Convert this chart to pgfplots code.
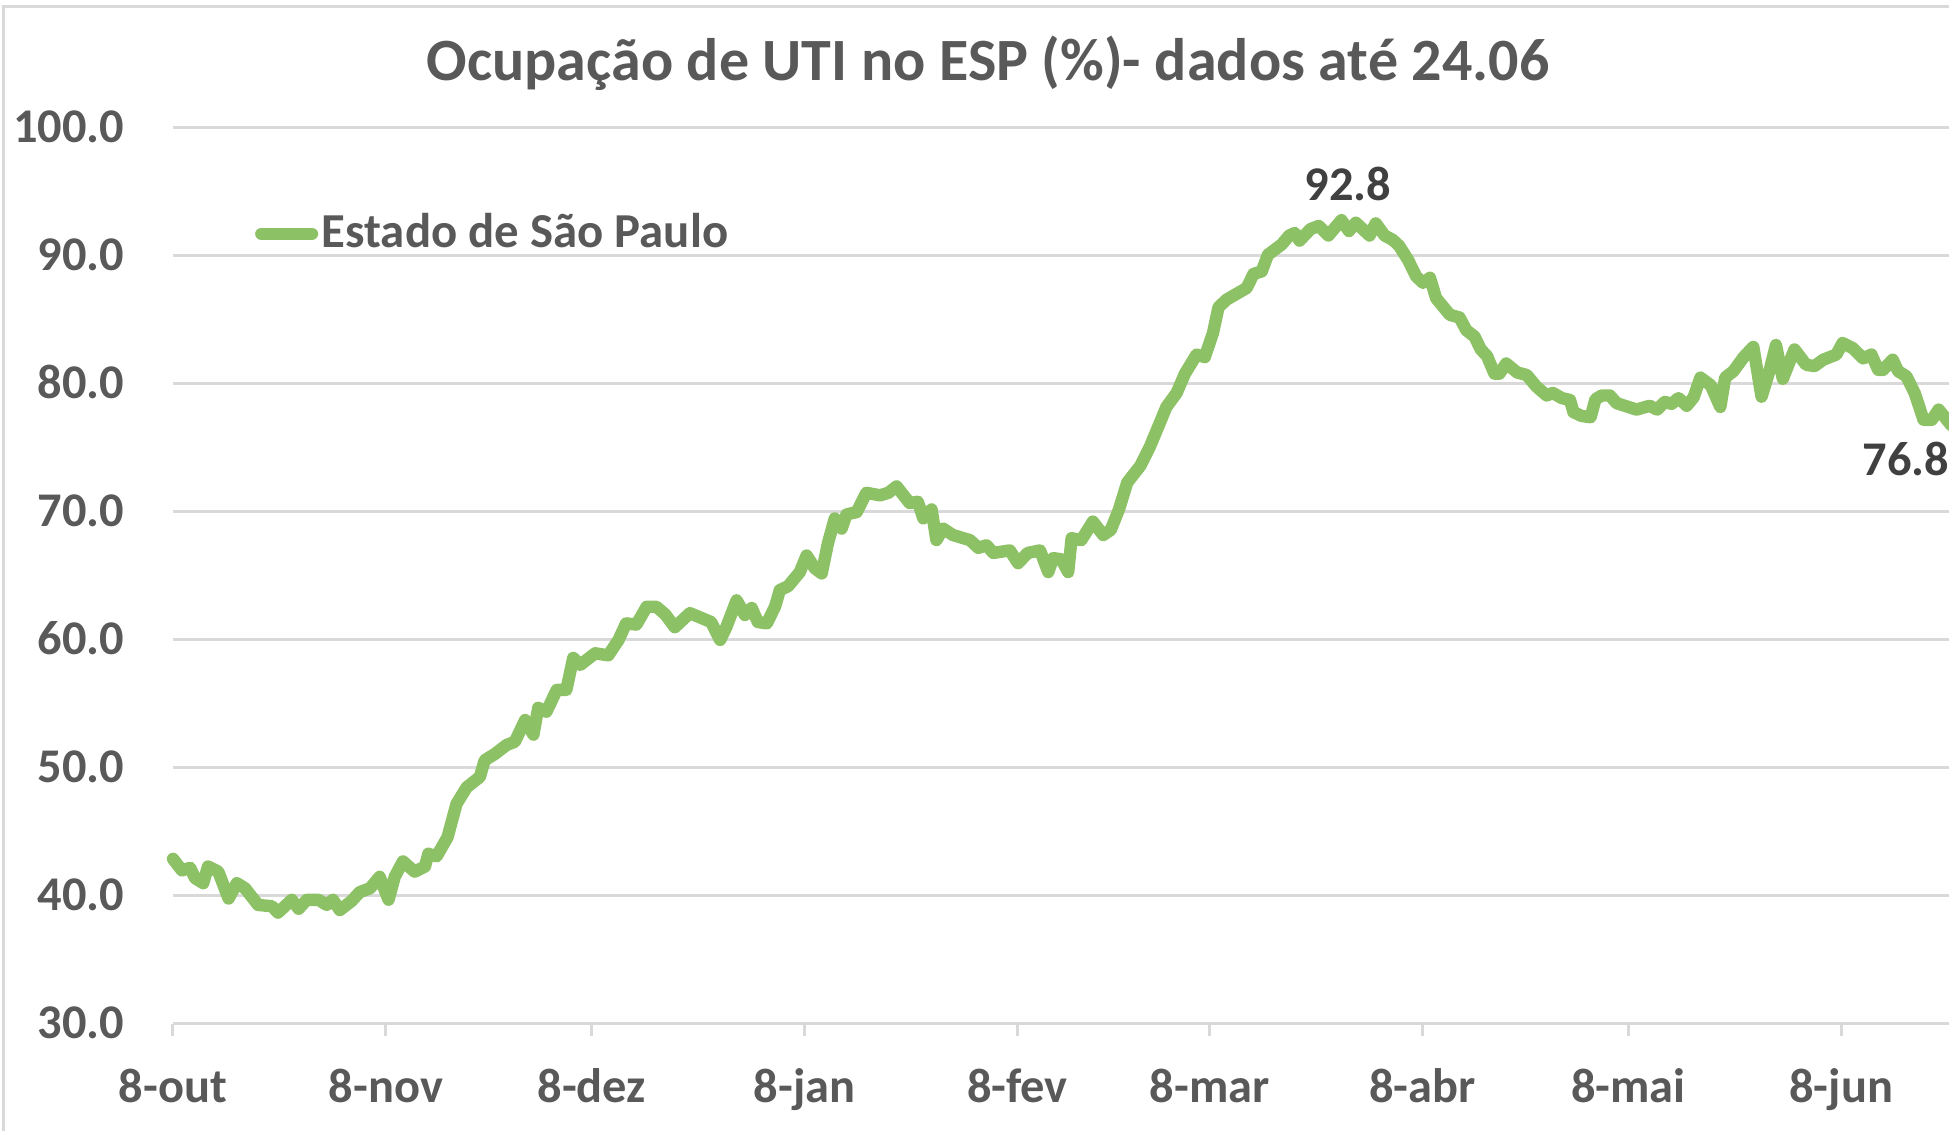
\documentclass[border=0pt]{standalone}
\usepackage{pgfplots}
\pgfplotsset{compat=1.18}
\usepackage{fontspec}
\setmainfont{Carlito}
\definecolor{gridgray}{HTML}{D9D9D9}
\definecolor{txtgray}{HTML}{595959}
\definecolor{lblgray}{HTML}{404040}
\definecolor{linegreen}{RGB}{141,193,101}
\newcommand{\numfont}{\fontsize{12.1}{14}\selectfont\bfseries}
\begin{document}
\begin{tikzpicture}
\begin{axis}[
  at={(0pt,0pt)}, anchor=south west,
  scale only axis, width=444.5pt, height=224pt,
  xmin=0, xmax=259, ymin=30, ymax=100,
  clip=false,
  axis lines*=left,
  x axis line style={draw=gridgray, line width=0.75pt},
  y axis line style={draw=none},
  ytick={30,40,...,100},
  ymajorgrids, grid style={draw=gridgray, line width=0.75pt},
  xtick={0,31,61,92,123,151,182,212,243},
  xticklabels={8-out,8-nov,8-dez,8-jan,8-fev,8-mar,8-abr,8-mai,8-jun},
  tick align=outside,
  xtick style={draw=gridgray, line width=0.75pt},
  major tick length=3pt,
  ytick style={draw=none},
  /pgf/number format/assume math mode=true,
  yticklabel style={/pgf/number format/.cd, fixed, fixed zerofill, precision=1, /tikz/.cd,
    anchor=base east, inner sep=0pt, xshift=-9pt, yshift=-3.6pt},
  xticklabel style={anchor=base, inner sep=0pt, yshift=-16.6pt},
  ticklabel style={font=\numfont, text=txtgray},
  legend style={draw=none, fill=none, inner sep=0pt, outer sep=0pt,
    at={(0.0462,0.882)}, anchor=west, column sep=0.9pt,
    nodes={inner sep=0pt}, font=\fontsize{12.2}{14}\selectfont\bfseries, text=txtgray},
  legend image code/.code={\draw[#1, line cap=round] (0pt,0pt) -- (12.65pt,0pt);},
]
\addplot[linegreen, line width=3.1pt, line join=round, line cap=round] table {
0 42.9
1.3 42.0
2.5 42.2
3.2 41.4
4.4 41.0
5.1 42.3
6.6 41.9
8.1 39.8
9.3 41.0
10.5 40.6
12.4 39.3
14.4 39.2
15.3 38.7
17.3 39.7
18.3 39.0
19.5 39.7
21.2 39.7
22.4 39.3
23.3 39.7
24.3 38.9
26 39.6
27.2 40.3
28.7 40.6
30.1 41.5
31.4 39.7
32.3 41.5
33.5 42.7
35.2 41.9
36.7 42.3
37.2 43.3
38.4 43.1
40 44.6
41.3 47.2
42.8 48.5
44.7 49.3
45.4 50.6
46.9 51.1
48.6 51.8
49.8 52.05
51.3 53.75
52.5 52.6
53.2 54.7
54.4 54.4
55.9 56.1
57.3 56.1
58.3 58.6
59.3 58.05
61.5 58.96
63.4 58.8
64.9 60.0
66 61.3
67.5 61.2
69 62.6
70.4 62.6
71.7 62.0
73.1 61.0
75.3 62.1
77.5 61.6
78.4 61.4
79.7 60.0
80.6 61.0
82.1 63.1
83.3 61.95
84.3 62.5
85.2 61.4
86.5 61.3
87.7 62.6
88.4 63.9
89.6 64.2
91.3 65.3
92.3 66.6
93.5 65.6
94.5 65.2
95.4 67.55
96.4 69.5
97.4 68.7
98.1 69.8
99.6 70.0
101 71.5
103 71.3
104.2 71.5
105.4 72.0
107.3 70.7
108.5 70.8
109.3 69.5
110.5 70.2
111.2 67.8
112.2 68.7
113.6 68.2
116.1 67.8
117.3 67.2
118.5 67.4
119.5 66.8
121.9 67.0
123.1 66.0
124.5 66.8
126.3 67.0
127.5 65.3
128.2 66.4
129.4 66.3
130.4 65.3
130.9 67.95
132.3 67.8
134 69.25
135.5 68.2
136.6 68.6
137.8 70.2
139 72.3
140.9 73.6
142.3 75.1
143.7 76.9
144.7 78.2
146.2 79.3
147.4 80.8
149.1 82.3
150.3 82.1
151.5 84.0
152.3 86.0
153.5 86.6
156.4 87.5
157.4 88.6
158.6 88.8
159.5 90.1
161.5 90.9
162.6 91.6
163.4 91.8
164.1 91.2
165.7 92.1
166.9 92.35
168.3 91.6
170.2 92.8
171.3 91.95
172.3 92.6
174.3 91.6
175.2 92.55
176.5 91.6
177.7 91.25
178.6 90.8
179.9 89.7
181.1 88.4
182.1 87.9
183.1 88.3
184 86.7
186 85.4
187.4 85.2
188.4 84.2
189.6 83.7
190.5 82.7
191.4 82.2
192.5 80.8
193.2 80.8
194.2 81.6
195.8 80.9
197.2 80.7
198.6 79.8
200.1 79.1
201 79.3
202.3 78.9
203.5 78.75
204 77.8
205.2 77.5
206.5 77.4
207.2 78.8
208.1 79.1
209.3 79.1
210.3 78.5
213.2 78.0
215.1 78.3
216.2 78.0
217.3 78.6
218.3 78.45
219.3 78.9
220.5 78.3
221.5 78.95
222.5 80.5
224 79.9
225.4 78.2
226.1 80.5
227.3 81.0
228.8 82.1
230.2 82.9
231.4 79.0
232.6 81.1
233.5 83.05
234.5 80.4
236.2 82.7
237.9 81.5
239.1 81.4
240.4 81.9
242.3 82.3
243.2 83.2
244.7 82.8
246.2 82.0
247.4 82.3
248.4 81.1
249.1 81.1
250.5 81.9
251.3 81.0
252.5 80.6
253.7 79.3
255 77.2
256.2 77.2
257.2 78.0
259 76.8
};
\addlegendentry{Estado de São Paulo}
\addplot[draw=none, mark=none, forget plot, nodes near coords, point meta=explicit symbolic,
  every node near coord/.append style={inner sep=0pt, yshift=4.5pt, xshift=1.6pt, font=\numfont, text=lblgray}]
  coordinates {(170.2,92.8) [92.8]};
\addplot[draw=none, mark=none, forget plot, nodes near coords, point meta=explicit symbolic,
  every node near coord/.append style={inner sep=0pt, yshift=-13pt, xshift=-11.3pt, font=\numfont, text=lblgray}]
  coordinates {(259,76.8) [76.8]};
\end{axis}
\draw[gridgray, line width=0.75pt] (-42.25pt,-40pt) -- (-42.25pt,254.25pt) -- (470pt,254.25pt);
\node[anchor=base, inner sep=0pt, font=\fontsize{15}{18}\selectfont\bfseries, text=txtgray] at (203.75pt,235.9pt) {Ocupação de UTI no ESP (\%)- dados até 24.06};
\pgfresetboundingbox
\useasboundingbox (-43.25pt,-26.75pt) rectangle (444pt,256pt);
\end{tikzpicture}
\end{document}
